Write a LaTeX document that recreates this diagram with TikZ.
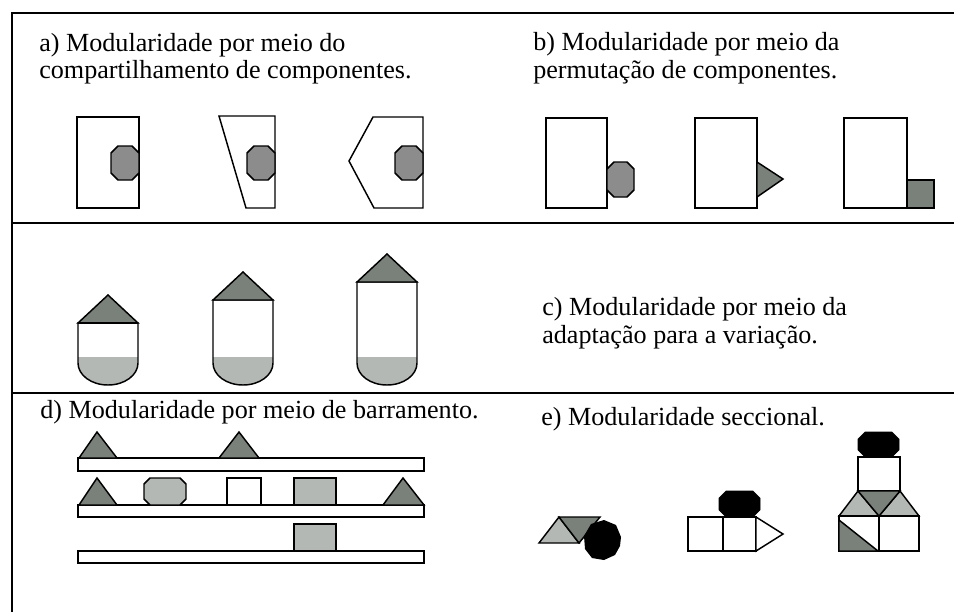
\documentclass[tikz,border=0pt]{standalone}
\usepackage{fontspec}
\setmainfont{Liberation Serif}
\definecolor{dk}{RGB}{122,128,122}
\definecolor{md}{RGB}{140,140,140}
\definecolor{lt}{RGB}{180,184,180}
\tikzset{
  sh/.style={draw=black,line width=1.1pt,line join=miter},
  frm/.style={draw=black,line width=1.4pt},
  lbl/.style={anchor=base west,inner sep=0pt,font=\fontsize{19.6}{22}\selectfont}
}
\newcommand{\myoct}[6]{%
  \draw[#6] (#1,{#2+#5}) -- ({#1+#5},#2) -- ({#3-#5},#2) -- (#3,{#2+#5}) -- (#3,{#4-#5}) -- ({#3-#5},#4) -- ({#1+#5},#4) -- (#1,{#4-#5}) -- cycle;}
\newcommand{\silopath}[2]{(#1,#2) -- (#1,363) .. controls (#1,375.2) and ({#1+13.4},385) .. ({#1+30},385) .. controls ({#1+46.6},385) and ({#1+60},375.2) .. ({#1+60},363) -- ({#1+60},#2) -- cycle}
\newcommand{\mysilo}[2]{%
  \begin{scope}
    \clip (#1,#2) -- (#1,363) .. controls (#1,375.2) and ({#1+13.4},385) .. ({#1+30},385) .. controls ({#1+46.6},385) and ({#1+60},375.2) .. ({#1+60},363) -- ({#1+60},#2) -- cycle;
    \fill[lt] (#1,357) rectangle ({#1+60},390);
  \end{scope}
  \draw[sh] (#1,#2) -- (#1,363) .. controls (#1,375.2) and ({#1+13.4},385) .. ({#1+30},385) .. controls ({#1+46.6},385) and ({#1+60},375.2) .. ({#1+60},363) -- ({#1+60},#2) -- cycle;
  \draw[sh,fill=dk] (#1,#2) -- ({#1+30},{#2-28}) -- ({#1+60},#2) -- cycle;}
\begin{document}
\begin{tikzpicture}[x=0.75pt,y=-0.75pt]
\useasboundingbox (0,0) rectangle (954,612);
\fill[white] (0,0) rectangle (954,612);
% frame
\draw[frm] (12,612) -- (12,13) -- (954,13);
\draw[frm] (12,223) -- (954,223);
\draw[frm] (12,393) -- (954,393);
% labels
\node[lbl] (a1) at (39,51) {a) Modularidade por meio do};
\node[lbl] (a2) at (39,78) {compartilhamento de componentes.};
\node[lbl] (b1) at (533,50) {b) Modularidade por meio da};
\node[lbl] (b2) at (533,78) {permutação de componentes.};
\node[lbl] (c1) at (542,315) {c) Modularidade por meio da};
\node[lbl] (c2) at (542,343) {adaptação para a variação.};
\node[lbl] (d1) at (40,418) {d) Modularidade por meio de barramento.};
\node[lbl] (e1) at (541,425) {e) Modularidade seccional.};
% section a
\draw[sh,fill=white] (77,117) rectangle (139,208);
\myoct{111}{146}{139}{180}{7}{sh,fill=md}
\draw[sh,fill=white] (219,116) -- (275,116) -- (275,208) -- (246,208) -- cycle;
\myoct{247}{146}{275}{180}{7}{sh,fill=md}
\draw[sh,fill=white] (373,117) -- (423,117) -- (423,208) -- (374,208) -- (349,161) -- cycle;
\myoct{395}{146}{423}{180}{7}{sh,fill=md}
% section b
\draw[sh,fill=white] (546,118) rectangle (607,208);
\myoct{607}{162}{634}{197}{7}{sh,fill=md}
\draw[sh,fill=white] (695,118) rectangle (757,208);
\draw[sh,fill=dk] (757,162) -- (783,179) -- (757,197) -- cycle;
\draw[sh,fill=white] (844,118) rectangle (907,208);
\draw[sh,fill=dk] (907,180) rectangle (934,208);
% section c
\mysilo{78}{323}
\draw[line width=2pt] (78,323) -- (138,323);
\mysilo{213}{300}
\mysilo{357}{282}
% section d
\draw[sh,fill=white] (78,458) rectangle (424,471);
\draw[sh,fill=white] (78,505) rectangle (424,517);
\draw[sh,fill=white] (78,551) rectangle (424,563);
\draw[sh,fill=dk] (79,458) -- (97,432) -- (117,458) -- cycle;
\draw[sh,fill=dk] (219,458) -- (239,432) -- (259,458) -- cycle;
\draw[sh,fill=dk] (79,505) -- (97,478) -- (117,505) -- cycle;
\draw[sh,fill=dk] (383,505) -- (403,478) -- (424,505) -- cycle;
\myoct{144}{478}{186}{505}{6}{sh,fill=lt}
\draw[sh,fill=white] (227,478) rectangle (261,505);
\draw[sh,fill=lt] (294,478) rectangle (336,505);
\draw[sh,fill=lt] (294,524) rectangle (336,551);
% section e, fig 1
\draw[sh,fill=lt] (539,543) -- (559,517) -- (579,543) -- cycle;
\draw[sh,fill=dk] (559,517) -- (600,517) -- (579,543) -- cycle;
\fill[black] (621,537) -- (616,525) -- (604,520) -- (591,524) -- (584,536) -- (585,549) -- (592,558) -- (604,560) -- (615,555) -- (620,546) -- cycle;
% fig 2
\draw[sh,fill=white] (688,517) rectangle (723,551);
\draw[sh,fill=white] (723,517) rectangle (756,551);
\draw[sh,fill=white] (756,517) -- (783,534) -- (756,551) -- cycle;
\myoct{719}{491}{760}{517}{7}{fill=black,draw=black}
% fig 3
\myoct{858}{432}{899}{457}{7}{fill=black,draw=black}
\draw[sh,fill=white] (858,457) rectangle (900,491);
\draw[sh,fill=lt] (839,516) -- (858,491) -- (879,516) -- cycle;
\draw[sh,fill=lt] (900,491) -- (919,516) -- (879,516) -- cycle;
\draw[sh,fill=dk] (858,491) -- (900,491) -- (879,516) -- cycle;
\draw[sh,fill=white] (839,516) rectangle (879,551);
\draw[sh,fill=dk] (839,520) -- (878,551) -- (839,551) -- cycle;
\draw[sh,fill=white] (879,516) rectangle (919,551);
\end{tikzpicture}
\end{document}
